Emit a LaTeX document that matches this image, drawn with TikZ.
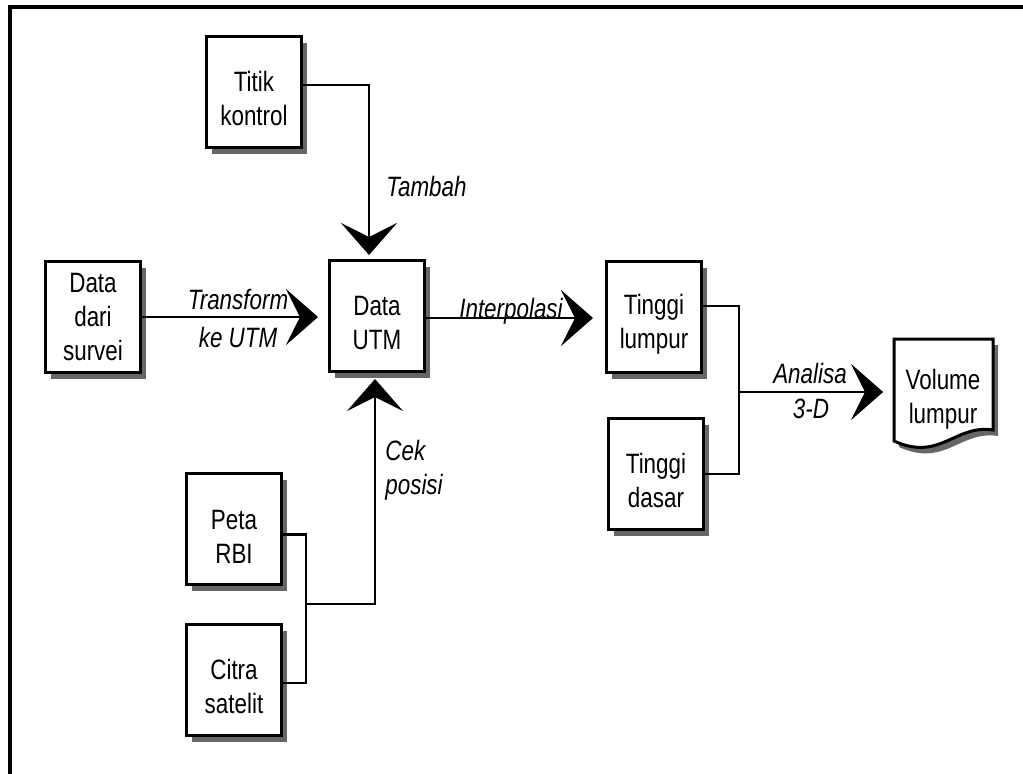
\documentclass[tikz,border=0pt]{standalone}
\usepackage{fontspec}
\setmainfont[FakeStretch=0.8]{Liberation Sans}
\usetikzlibrary{arrows.meta,shadows}
\tikzset{
    box/.style={draw, line width=1.5pt, fill=white, minimum width=47.5pt, minimum height=55.5pt,
        align=center, inner sep=1pt, font=\fontsize{14}{17}\selectfont,
        drop shadow={shadow xshift=2.5pt, shadow yshift=-3pt, fill=black!60, opacity=1}},
    flow/.style={line width=1.4pt, -{Stealth[length=16pt,width=28pt,inset=7pt]}},
    link/.style={line width=1.4pt},
    lbl/.style={font=\fontsize{14}{17}\selectfont\itshape, inner sep=0pt},
}
\begin{document}
\begin{tikzpicture}[x=0.5pt, y=-0.5pt]         % Diagram alir
    \useasboundingbox (0,0) rectangle (1023,773);
    % 外框
    \draw[line width=2pt] (10,790) -- (10,7) -- (1040,7);

    % 方塊
    \node[box] (titik) at (254,92) {\mbox{}\\Titik\\kontrol};
    \node[box] (survei) at (93,317) {Data\\dari\\survei};
    \node[box] (utm) at (377,316) {\mbox{}\\Data\\UTM};
    \node[box] (lumpur) at (654,317) {\mbox{}\\Tinggi\\lumpur};
    \node[box] (dasar) at (656,474) {\mbox{}\\Tinggi\\dasar};
    \node[box] (peta) at (234,529) {\mbox{}\\Peta\\RBI};
    \node[box] (citra) at (234,680) {\mbox{}\\Citra\\satelit};

    % 文件形狀
    \fill[black!60] (899,345) -- (998,345) -- (998,436) .. controls (960,430) and (945,468) .. (899,447) -- cycle;
    \draw[line width=1.5pt, fill=white] (894,339) -- (993,339) -- (993,430) .. controls (955,424) and (940,462) .. (894,441) -- cycle;
    \node[font=\fontsize{14}{17}\selectfont, align=center, minimum width=49.5pt, inner sep=0pt] (vol) at (943,399) {Volume\\lumpur};

    % 接點
    \coordinate (jpeta) at (306,604);
    \coordinate (jtinggi) at (739,392);

    % 畫出邊
    \draw[flow, shorten >=2pt] ([yshift=3.5pt]titik.east) -| ([xshift=-4pt]utm.north);
    \draw[flow, shorten >=5pt] (survei.east) -- (survei.east -| utm.west);
    \draw[flow, shorten >=6pt] ([yshift=-1pt]utm.east) -- ([yshift=-1pt]utm.east -| lumpur.west);
    \draw[link] ([yshift=-2.75pt]peta.east) -| (jpeta) |- ([yshift=-1.5pt]citra.east);
    \draw[flow, shorten >=3pt] (jpeta) -| ([xshift=-1pt]utm.south);
    \draw[link] ([yshift=5.5pt]lumpur.east) -| (jtinggi) |- (dasar.east);
    \draw[flow, shorten >=5pt] (jtinggi) -- (jtinggi -| vol.west);

    % 標籤
    \node[lbl, anchor=west] (ltambah) at (386,186) {Tambah};
    \node[lbl] (ltrans) at (238,299) {Transform};
    \node[lbl] (lke) at (238,337) {ke UTM};
    \node[lbl, anchor=base] (linterp) at (511,318) {Interpolasi};
    \node[lbl, anchor=west, align=left] (lcek) at (385,470) {Cek\\posisi};
    \node[lbl] (lanalisa) at (810,373) {Analisa};
    \node[lbl] (l3d) at (811,409) {3-D};
\end{tikzpicture}
\end{document}
